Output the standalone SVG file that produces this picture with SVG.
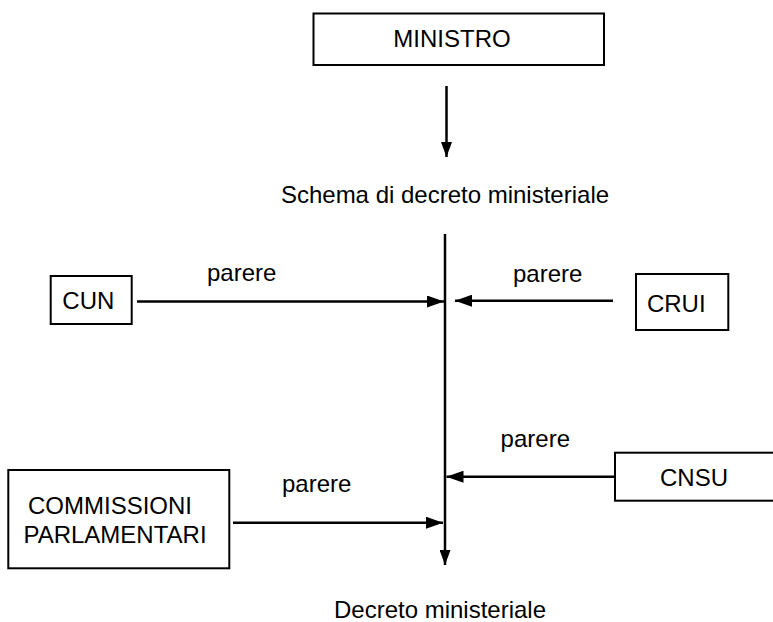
<svg xmlns="http://www.w3.org/2000/svg" width="773" height="622" viewBox="0 0 773 622">
<defs>
<style>
.box{fill:#fff;stroke:#000;stroke-width:2}
.t{font-family:"Liberation Sans",Arial,sans-serif;font-size:24px;fill:#000;text-anchor:middle}
.c{stroke:#000;stroke-width:2.5;fill:none}
</style>
<marker id="ah" markerUnits="userSpaceOnUse" markerWidth="17" markerHeight="12" refX="17" refY="6" orient="auto">
<path d="M0,0 L17,6 L0,12 z" fill="#000"/>
</marker>
<marker id="ahs" markerUnits="userSpaceOnUse" markerWidth="15" markerHeight="11" refX="15" refY="5.5" orient="auto">
<path d="M0,0 L15,5.5 L0,11 z" fill="#000"/>
</marker>
</defs>
<rect width="773" height="622" fill="#fff"/>
<g id="connectors">
<line class="c" x1="446.5" y1="86" x2="446.5" y2="157" marker-end="url(#ahs)"/>
<line class="c" x1="445" y1="234" x2="445" y2="565" marker-end="url(#ahs)"/>
<line class="c" x1="137" y1="301.5" x2="444" y2="301.5" marker-end="url(#ah)"/>
<line class="c" x1="613" y1="300.7" x2="455" y2="300.7" marker-end="url(#ah)"/>
<line class="c" x1="615" y1="476.7" x2="446.5" y2="476.7" marker-end="url(#ah)"/>
<line class="c" x1="233" y1="522.7" x2="443" y2="522.7" marker-end="url(#ah)"/>
</g>
<g id="labels">
<text class="t" x="445" y="203">Schema di decreto ministeriale</text>
<text class="t" x="241.7" y="280.5">parere</text>
<text class="t" x="547.7" y="281.5">parere</text>
<text class="t" x="535.3" y="446.7">parere</text>
<text class="t" x="316.7" y="491.7">parere</text>
<text class="t" x="440" y="618">Decreto ministeriale</text>
</g>
<g id="ministro">
<rect class="box" x="313.5" y="13.5" width="290.5" height="51.5"/>
<text class="t" x="452" y="46.7">MINISTRO</text>
</g>
<g id="cun">
<rect class="box" x="50.7" y="276" width="81" height="48"/>
<text class="t" x="88.3" y="309">CUN</text>
</g>
<g id="crui">
<rect class="box" x="636" y="274" width="92.3" height="56"/>
<text class="t" x="676.3" y="311.7">CRUI</text>
</g>
<g id="cnsu">
<rect class="box" x="615" y="452.7" width="170" height="48"/>
<text class="t" x="694" y="486">CNSU</text>
</g>
<g id="commissioni">
<rect class="box" x="8.3" y="470" width="221" height="98.3"/>
<text class="t" x="110" y="514.3">COMMISSIONI</text>
<text class="t" x="115" y="542.7">PARLAMENTARI</text>
</g>
</svg>
